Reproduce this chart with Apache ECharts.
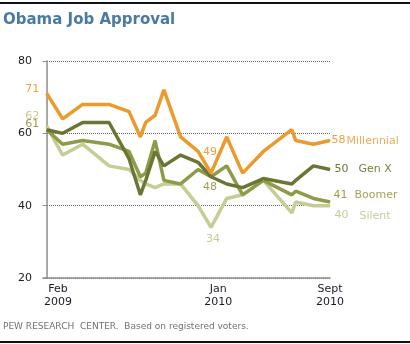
<!DOCTYPE html>
<html>
<head>
<meta charset="utf-8">
<script src="https://cdn.jsdelivr.net/npm/echarts@6/dist/echarts.min.js"></script>
<style>
html,body{margin:0;padding:0;background:#fff;}
#chart{width:410px;height:344px;}
</style>
</head>
<body>
<div id="chart"></div>
<script>
// Survey positions in months after Feb 2009 (Feb 2009 = 0, Sept 2010 = 19)
const months = [0, 1.07, 2.41, 4.18, 5.52, 6.28, 6.64, 7.27, 7.86, 8.98, 10.15, 11.02, 12.07, 13.14, 14.53, 16.44, 16.70, 17.89, 19.0];
const millennial = [71, 64, 68, 68, 66, 59, 63, 65, 72, 59, 55, 49, 59, 49, 55, 61, 58, 57, 58];
const genX       = [61, 60, 63, 63, 53, 43, 47, 55, 51, 54, 52, 48, 46, 45, 47.5, 46, 47, 51, 50];
const boomer     = [61, 57, 58, 57, 55, 48, 49, 58, 47, 46, 50, 48, 51, 43, 47, 43, 44, 42, 41];
const silent     = [62, 54, 57, 51, 50, 47, 46, 45, 46, 46, 40, 34, 42, 43, 47, 38, 41, 40, 40];
const seriesNames = ['Millennial', 'Gen X', 'Boomer', 'Silent'];
const xTickLabels = [[0.75, 'Feb\n2009'], [11.5, 'Jan\n2010'], [19, 'Sept\n2010']];
const yTicks = [20, 40, 60, 80];

const FONT = 'DejaVu Sans';
const colors = {
  'Millennial': {line: '#ec9a2c', num: '#eea03a', name: '#f2ab58'},
  'Gen X':      {line: '#6c7634', num: '#6c7634', name: '#7a8040'},
  'Boomer':     {line: '#8e9b48', num: '#a09d52', name: '#a6a25a'},
  'Silent':     {line: '#c6cc94', num: '#c8cb92', name: '#c8cc98'}
};
// label settings for first point, Jan-2010 point and last point
const labelCfg = {
  'Millennial': {first: {dist: 7, off: [0, -4]}, mid: {pos: 'top', dist: 15, off: [-1, 0]}, end: {off: [1, 0], numW: 15, nameOff: 2}},
  'Gen X':      {first: null, mid: null, end: {off: [4, 0], numW: 24, nameOff: 0}},
  'Boomer':     {first: {dist: 7, off: [0, -6]}, mid: {pos: 'bottom', dist: 4, off: [-1, 0]}, end: {off: [3, -7], numW: 21, nameOff: 0}},
  'Silent':     {first: {dist: 7, off: [0, -10]}, mid: {pos: 'bottom', dist: 6, off: [2, 0]}, end: {off: [4, 9], numW: 25, nameOff: 3}}
};
const MID = 11;

function buildData(name, vals) {
  const c = colors[name], cfg = labelCfg[name];
  return vals.map((v, i) => {
    const item = {value: [months[i], v]};
    const base = {show: true, fontFamily: FONT, fontSize: 11, color: c.num};
    if (i === 0 && cfg.first) {
      item.label = Object.assign({}, base, {position: 'left', distance: cfg.first.dist, offset: cfg.first.off, formatter: String(v)});
    } else if (i === MID && cfg.mid) {
      item.label = Object.assign({}, base, {position: cfg.mid.pos, distance: cfg.mid.dist, offset: cfg.mid.off, formatter: String(v)});
    } else if (i === vals.length - 1) {
      item.label = Object.assign({}, base, {
        position: 'right', distance: 0, offset: cfg.end.off,
        formatter: '{v|' + v + '}{n|' + name + '}',
        rich: {
          v: {fontFamily: FONT, fontSize: 11, color: c.num, width: cfg.end.numW},
          n: {fontFamily: FONT, fontSize: 11, color: c.name, padding: [cfg.end.nameOff, 0, 0, 0]}
        }
      });
    }
    return item;
  });
}

const seriesData = {'Millennial': millennial, 'Gen X': genX, 'Boomer': boomer, 'Silent': silent};
const drawOrder = ['Silent', 'Boomer', 'Gen X', 'Millennial'];

const chart = echarts.init(document.getElementById('chart'), null, {renderer: 'canvas'});
chart.setOption({
  animation: false,
  backgroundColor: '#fff',
  title: [
    {text: 'Obama Job Approval', left: 3, top: 13, padding: 0,
     textStyle: {fontFamily: FONT, fontSize: 15, fontWeight: 'bold', color: '#4b7aa5'}},
    {text: 'PEW RESEARCH  CENTER.  Based on registered voters.', left: 3, top: 322, padding: 0,
     textStyle: {fontFamily: FONT, fontSize: 9, fontWeight: 'normal', color: '#707070'}}
  ],
  graphic: [
    {type: 'rect', left: 0, top: 2, shape: {width: 410, height: 2}, style: {fill: '#111'}},
    {type: 'rect', left: 0, top: 341, shape: {width: 410, height: 2}, style: {fill: '#111'}}
  ],
  grid: {left: 43, right: 80, top: 61, bottom: 66, containLabel: false},
  xAxis: {
    type: 'value', min: -0.25, max: 19, interval: 0.25,
    axisLine: {show: true, lineStyle: {color: '#8c8c8c', width: 1.5}},
    axisTick: {show: false},
    splitLine: {show: false},
    axisLabel: {
      show: true, margin: 5, fontFamily: FONT, fontSize: 11, color: '#1a1a2a', lineHeight: 13,
      showMinLabel: true, showMaxLabel: true,
      formatter: function (val) {
        for (const t of xTickLabels) { if (Math.abs(val - t[0]) < 1e-6) return t[1]; }
        return '';
      }
    }
  },
  yAxis: {
    type: 'value', min: yTicks[0], max: yTicks[yTicks.length - 1], interval: 20,
    axisLine: {show: true, lineStyle: {color: '#8c8c8c', width: 1.5}},
    axisTick: {show: true, length: 4, lineStyle: {color: '#8c8c8c', width: 1}},
    splitLine: {show: true, lineStyle: {color: '#666', type: 'dotted', width: 1}},
    axisLabel: {margin: 11, fontFamily: FONT, fontSize: 11, color: '#1a1a2a'}
  },
  series: drawOrder.map(name => ({
    name: name,
    type: 'line',
    data: buildData(name, seriesData[name]),
    showSymbol: true,
    symbol: 'circle',
    symbolSize: 1,
    itemStyle: {color: colors[name].line},
    lineStyle: {color: colors[name].line, width: 3.5},
    emphasis: {disabled: true},
    silent: true,
    z: 2
  }))
});
</script>
</body>
</html>
